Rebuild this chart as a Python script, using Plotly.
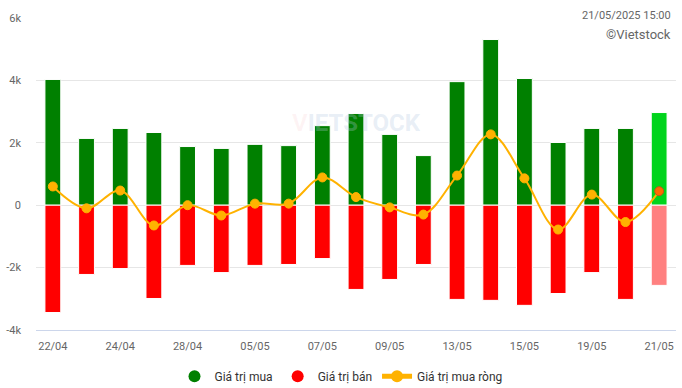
import plotly.graph_objects as go

dates = ["22/04", "23/04", "24/04", "25/04", "28/04", "29/04", "05/05", "06/05", "07/05", "08/05",
         "09/05", "12/05", "13/05", "14/05", "15/05", "16/05", "19/05", "20/05", "21/05"]
buy = [4030, 2140, 2460, 2330, 1880, 1820, 1950, 1910, 2550, 2940,
       2270, 1590, 3960, 5310, 4060, 2010, 2460, 2460, 2970]
sell = [-3440, -2220, -2030, -2990, -1930, -2160, -1930, -1900, -1710, -2700,
        -2380, -1900, -3020, -3050, -3210, -2830, -2160, -3020, -2570]
net = [600, -100, 470, -650, 0, -330, 50, 50, 890, 260,
       -70, -300, 950, 2270, 860, -780, 340, -540, 450]

yticks = [-4000, -2000, 0, 2000, 4000, 6000]
yticktext = ["-4k", "-2k", "0", "2k", "4k", "6k"]

n = len(dates)
buy_colors = ["#008000"] * (n - 1) + ["#00d41c"]
sell_colors = ["#ff0000"] * (n - 1) + ["#ff8080"]
net_colors = ["#ffb200"] * (n - 1) + ["#ff6a00"]
net_line_colors = ["#ffb200"] * (n - 1) + ["#c0561a"]

FONT = "Roboto, 'Open Sans', Arial, sans-serif"

fig = go.Figure()
fig.add_trace(go.Bar(x=dates, y=buy, marker=dict(color=buy_colors, line=dict(color="white", width=1)),
                     name="Giá trị mua", showlegend=False))
fig.add_trace(go.Bar(x=dates, y=sell, marker=dict(color=sell_colors, line=dict(color="white", width=1)),
                     name="Giá trị bán", showlegend=False))
fig.add_trace(go.Scatter(x=dates, y=net, mode="lines+markers", name="Giá trị mua ròng",
                         line=dict(color="#ffb200", width=2, shape="spline", smoothing=1),
                         marker=dict(size=9, color=net_colors, line=dict(color=net_line_colors, width=1)),
                         showlegend=False))
# legend entries
fig.add_trace(go.Scatter(x=[None], y=[None], mode="markers", name="Giá trị mua",
                         marker=dict(symbol="circle", size=12, color="#008000")))
fig.add_trace(go.Scatter(x=[None], y=[None], mode="markers", name="Giá trị bán",
                         marker=dict(symbol="circle", size=12, color="#ff0000")))
fig.add_trace(go.Scatter(x=[None], y=[None], mode="lines+markers", name="Giá trị mua ròng",
                         line=dict(color="#ffb200", width=2),
                         marker=dict(symbol="circle", size=7, color="#ffb200")))

fig.update_layout(
    width=682, height=388,
    margin=dict(l=34, r=6, t=18, b=58),
    paper_bgcolor="white", plot_bgcolor="white",
    barmode="relative", bargap=0.53,
    font=dict(family=FONT, color="#666666", size=11),
    showlegend=True,
    legend=dict(orientation="h", xref="container", yref="container", x=0.5, xanchor="center",
                y=0.03, yanchor="middle", font=dict(size=12, color="#333333"),
                itemsizing="constant", itemclick=False, itemdoubleclick=False),
    xaxis=dict(type="category", categoryorder="array", categoryarray=dates,
               tickvals=dates[::2], ticktext=dates[::2], showgrid=False,
               showline=True, linecolor="#ccd6eb", linewidth=1, ticks="",
               tickfont=dict(size=11, color="#666666"), ticklabelstandoff=6,
               range=[-0.5, n - 0.5], fixedrange=True),
    yaxis=dict(range=[-4000, 6000], tickvals=yticks, ticktext=yticktext,
               showgrid=True, gridcolor="#e6e6e6", gridwidth=1, zeroline=False,
               showline=False, ticks="", ticklabelstandoff=14,
               tickfont=dict(size=11, color="#666666"), fixedrange=True),
    annotations=[
        dict(text="21/05/2025 15:00", xref="paper", yref="paper", x=1.0, y=1.0, xanchor="right",
             yanchor="bottom", yshift=-6, xshift=-3, showarrow=False, font=dict(size=11, color="#666666")),
        dict(text="©Vietstock", xref="paper", yref="paper", x=1.0, y=1.0, xanchor="right",
             yanchor="middle", yshift=-16, xshift=-3, showarrow=False, font=dict(size=13, color="#666666")),
        dict(text="<b><span style='color:rgba(240,130,140,0.3)'>V</span>IETSTOCK</b>",
             x=0.5, y=0.715, xref="paper", yref="paper", showarrow=False,
             font=dict(size=24, color="rgba(180,200,225,0.3)")),
    ],
)

fig.write_html("out.html", config={"displayModeBar": False},
               post_script="document.body.style.margin='0';document.body.style.overflow='hidden';")
